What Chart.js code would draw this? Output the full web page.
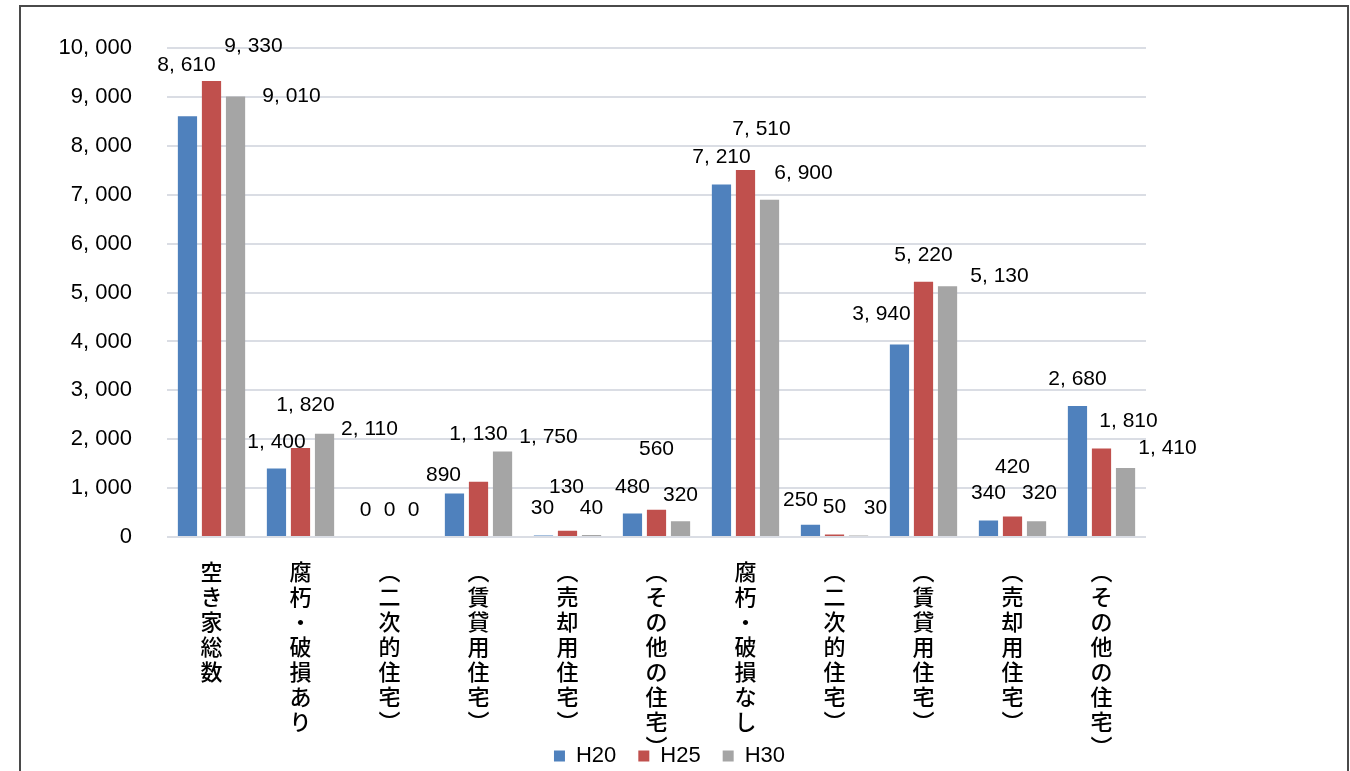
<!DOCTYPE html>
<html>
<head>
    <meta charset="utf-8">
    <title>空き家数の推移</title>
    <script src="https://cdn.jsdelivr.net/npm/chart.js"></script>
    <style>
        body {
            margin: 0;
            background: #fff;
        }
    </style>
</head>
<body>
    <canvas id="barChart" width="1350" height="771"></canvas>
    <script>
        // 区分
        const categories = [
            '空き家総数', '腐朽・破損あり', '（二次的住宅）', '（賃貸用住宅）', '（売却用住宅）', '（その他の住宅）',
            '腐朽・破損なし', '（二次的住宅）', '（賃貸用住宅）', '（売却用住宅）', '（その他の住宅）'
        ];
        const seriesNames = ['H20', 'H25', 'H30'];
        const h20 = [8610, 1400, 0, 890, 30, 480, 7210, 250, 3940, 340, 2680];
        const h25 = [9330, 1820, 0, 1130, 130, 560, 7510, 50, 5220, 420, 1810];
        const h30 = [9010, 2110, 0, 1750, 40, 320, 6900, 30, 5130, 320, 1410];
        const yTicks = [0, 1000, 2000, 3000, 4000, 5000, 6000, 7000, 8000, 9000, 10000];

        const colors = ['#4F81BD', '#C0504D', '#A5A5A5'];
        const numFont = "'Liberation Sans', Arial, 'Noto Sans CJK JP', sans-serif";
        const jpFont = "'Noto Sans CJK JP', 'Liberation Sans', sans-serif";

        // ラベルの位置調整 (棒の上端中央からのずれ px)
        const labelShift = [
            [[-1, -51], [0, -26], [0, -27], [-11, -18], [-1, -27], [0, -26], [0, -27], [-10, -25], [-18, -30], [0, -27], [0, -27]],
            [[42, -35], [5, -43], [0, -27], [0, -48], [-1, -43], [0, -60], [16, -41], [0, -27], [0, -27], [0, -49], [27, -27]],
            [[56, 0], [45, -5], [0, -27], [46, -14], [0, -27], [0, -26], [34, -27], [17, -27], [52, -10], [3, -28], [42, -20]]
        ];

        function fmt(v) {
            return v.toLocaleString('en-US').replace(',', ', ');
        }

        // 縦書き用に1文字ずつ分ける
        function verticalText(s) {
            return Array.from(s).map(c => c === '（' ? '︵' : (c === '）' ? '︶' : c));
        }

        const valueLabels = {
            id: 'valueLabels',
            afterDatasetsDraw(chart) {
                const ctx = chart.ctx;
                ctx.save();
                ctx.font = '21px ' + numFont;
                ctx.fillStyle = '#000';
                ctx.textAlign = 'center';
                ctx.textBaseline = 'middle';
                chart.data.datasets.forEach((ds, i) => {
                    chart.getDatasetMeta(i).data.forEach((bar, j) => {
                        const s = labelShift[i][j];
                        ctx.fillText(fmt(ds.data[j]), bar.x + s[0], bar.y + s[1]);
                    });
                });
                ctx.restore();
            }
        };

        const frame = {
            id: 'frame',
            afterLayout(chart) {
                // 軸ラベルは凡例の近くまで伸びるので切らない
                chart.scales.x.bottom = chart.height;
                const lg = chart.legend;
                lg.left += 13;
                lg.right += 13;
                lg.top += 6;
                lg.bottom += 6;
            },
            beforeDraw(chart) {
                const ctx = chart.ctx;
                ctx.save();
                ctx.fillStyle = '#fff';
                ctx.fillRect(0, 0, chart.width, chart.height);
                ctx.strokeStyle = '#4a4a4a';
                ctx.lineWidth = 2;
                ctx.strokeRect(20, 6, 1328, 800);
                ctx.restore();
            }
        };

        const ctx = document.getElementById('barChart').getContext('2d');
        new Chart(ctx, {
            type: 'bar',
            data: {
                labels: categories,
                datasets: [h20, h25, h30].map((d, i) => ({
                    label: seriesNames[i],
                    data: d,
                    backgroundColor: colors[i],
                    categoryPercentage: 0.81,
                    barPercentage: 0.8
                }))
            },
            options: {
                responsive: false,
                animation: false,
                layout: {
                    padding: { top: 45, right: 204, left: 0, bottom: 0 }
                },
                plugins: {
                    tooltip: { enabled: false },
                    legend: {
                        position: 'bottom',
                        fullSize: false,
                        labels: {
                            boxWidth: 11,
                            boxHeight: 11,
                            padding: 22,
                            color: '#000',
                            font: { family: numFont, size: 22 }
                        }
                    }
                },
                scales: {
                    x: {
                        grid: { display: false },
                        border: { display: false },
                        ticks: {
                            autoSkip: false,
                            maxRotation: 0,
                            padding: 14,
                            color: '#000',
                            font: { family: jpFont, size: 22, weight: '500', lineHeight: '25px' },
                            callback: function(value) {
                                return verticalText(categories[value]);
                            }
                        },
                        afterFit: function(scale) {
                            scale.height = 180;
                        }
                    },
                    y: {
                        min: 0,
                        max: 10000,
                        afterBuildTicks: function(scale) {
                            scale.ticks = yTicks.map(v => ({ value: v }));
                        },
                        grid: { color: '#dadde4', lineWidth: 2, drawTicks: false },
                        border: { display: false },
                        ticks: {
                            padding: 35,
                            color: '#000',
                            font: { family: numFont, size: 22 },
                            callback: function(value) {
                                return fmt(value);
                            }
                        },
                        afterFit: function(scale) {
                            scale.width = 167;
                        }
                    }
                }
            },
            plugins: [frame, valueLabels]
        });
    </script>
</body>
</html>
